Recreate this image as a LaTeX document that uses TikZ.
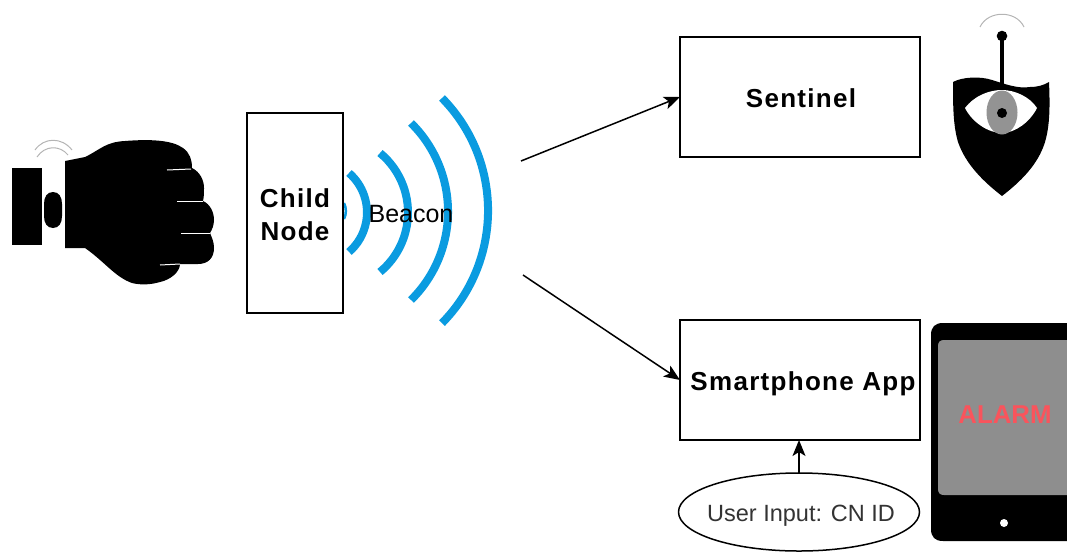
\documentclass[tikz,border=0pt]{standalone}
\usepackage{fontspec}
\setmainfont{Liberation Sans}
\usetikzlibrary{arrows.meta,shapes.geometric}
\definecolor{waveblue}{HTML}{0A9BE0}
\definecolor{alarmred}{HTML}{F9545C}
\definecolor{screengray}{HTML}{8E8E8E}
\definecolor{eyegray}{HTML}{939393}
\definecolor{signalgray}{HTML}{B4B4B4}
\definecolor{inputtext}{HTML}{333333}
\tikzset{
  every node/.style={inner sep=0pt,outer sep=0pt},
  boxnode/.style={draw=black,line width=1.6pt,fill=white,align=center,
    font=\fontsize{26}{33}\selectfont\bfseries\addfontfeature{LetterSpace=5}},
  wave/.style={draw=waveblue,line width=8pt},
  flow/.style={draw=black,line width=1.5pt,-{Stealth[length=16pt,width=13pt,inset=4pt]}},
  signal/.style={draw=signalgray,line width=1pt},
  plaintext/.style={font=\fontsize{25}{30}\selectfont},
  knuckle/.style={draw=white,line width=1pt}
}
\begin{document}
\begin{tikzpicture}[x=1pt,y=-1pt]
\useasboundingbox (0,0) rectangle (1067,552);
% wrist and hand
\fill[black] (12,168) -- (42,168) -- (42,245) -- (12,245) -- cycle;
\fill[black] (53,192) .. controls (59,192) and (62,197) .. (62,204) -- (62,216)
  .. controls (62,223) and (59,228) .. (53,228) .. controls (47,228) and (44,223) .. (44,216)
  -- (44,204) .. controls (44,197) and (47,192) .. (53,192) -- cycle;
\fill[black] (65,161) -- (85,157) .. controls (100,150) and (105,142) .. (125,141)
  .. controls (150,139) and (172,140) .. (183,148) .. controls (190,153) and (192,160) .. (192,168)
  .. controls (200,172) and (204,180) .. (204,188) .. controls (204,193) and (204,197) .. (203,201)
  .. controls (210,204) and (214,212) .. (214,220) .. controls (214,225) and (212,230) .. (210,233)
  .. controls (212,238) and (214,242) .. (214,248) .. controls (214,258) and (208,264) .. (198,264)
  -- (180,264) .. controls (180,272) and (170,280) .. (160,282)
  .. controls (150,285) and (140,285) .. (132,283) .. controls (115,277) and (105,262) .. (85,248)
  -- (65,248) -- cycle;
\draw[knuckle] (167,170) -- (191,169);
\draw[knuckle] (177,201) -- (203,201);
\draw[knuckle] (181,233) -- (210,233);
\draw[knuckle] (160,265) -- (180,264);
\draw[signal] (35,150) .. controls (44,137) and (62,137) .. (72,150);
\draw[signal] (37,157) .. controls (45,145) and (60,145) .. (68,155);
% beacon waves
\draw[wave] (442,98) arc[start angle=-44.5,end angle=44.5,radius=160.6];
\draw[wave] (411,123) arc[start angle=-45.4,end angle=45.4,radius=124.3];
\draw[wave] (380,153) arc[start angle=-50.4,end angle=50.4,radius=77.2];
\draw[wave] (349,173) arc[start angle=-49,end angle=49,radius=52.3];
\draw[draw=waveblue,line width=2.5pt] (344,203) .. controls (346.5,208) and (346.5,214) .. (344,219);
% boxes
\node[boxnode,minimum width=96pt,minimum height=200pt,fill=none] (child) at (295,213) {\rule{0pt}{22pt}Child\\Node};
\node[plaintext] (beacon) at (411,214) {Beacon};
\node[boxnode,minimum width=240pt,minimum height=120pt] (sentinel) at (800,97) {\raisebox{-10pt}[0pt][0pt]{\hspace*{2pt}Sentinel}};
\node[boxnode,minimum width=240pt,minimum height=120pt] (app) at (800,380) {\raisebox{-10pt}[0pt][0pt]{\hspace*{6pt}Smartphone App}};
\node[draw=black,line width=1.5pt,fill=white,ellipse,minimum width=241pt,minimum height=78pt,
  font=\fontsize{23.5}{30}\selectfont,text=inputtext] (input) at (799,512) {\raisebox{-9.5pt}[0pt][0pt]{\makebox[0pt]{\hspace*{4pt}User Input: CN ID}}};
% connectors
\coordinate (wavetop) at (521,161);
\coordinate (wavelow) at (523,275);
\draw[flow] (wavetop) -- (sentinel.west);
\draw[flow] (wavelow) -- (app.west);
\draw[flow] (input.north) -- (input.north |- app.south);
% sentinel icon
\fill[black] (953,82) .. controls (962,77) and (980,76) .. (992,80)
  .. controls (1005,84) and (1018,89) .. (1030,87) .. controls (1038,87) and (1044,85) .. (1049,82)
  .. controls (1050,105) and (1050,125) .. (1045,142) .. controls (1038,165) and (1020,182) .. (1002,196)
  .. controls (984,182) and (966,165) .. (958,142) .. controls (953,125) and (953,105) .. (953,82) -- cycle;
\fill[white] (965,108) .. controls (975,95) and (990,90) .. (1002,90)
  .. controls (1015,90) and (1030,97) .. (1037,108)
  .. controls (1030,122) and (1015,133) .. (1002,133)
  .. controls (988,133) and (972,122) .. (965,108) -- cycle;
\fill[eyegray] (1002,112.5) ellipse[x radius=15.5,y radius=22];
\fill[black] (1002,113) circle[radius=5];
\draw[black,line width=3.5pt] (1002,84) -- (1002,36);
\fill[black] (1002,36) circle[radius=5.3];
\draw[signal] (980,27) .. controls (988,10) and (1016,10) .. (1024,27);
% phone icon
\fill[black] (1080,323) -- (943,323) .. controls (935,323) and (931,327) .. (931,335)
  -- (931,529) .. controls (931,537) and (935,541) .. (943,541) -- (1080,541) -- cycle;
\fill[screengray] (1080,340) -- (944,340) .. controls (940,340) and (938,342) .. (938,346)
  -- (938,489) .. controls (938,493) and (940,495) .. (944,495) -- (1080,495) -- cycle;
\fill[white] (1004,523) circle[radius=4];
\node[font=\fontsize{25.8}{30}\selectfont\bfseries,text=alarmred] (alarm) at (1005,415) {ALARM};
\end{tikzpicture}
\end{document}
